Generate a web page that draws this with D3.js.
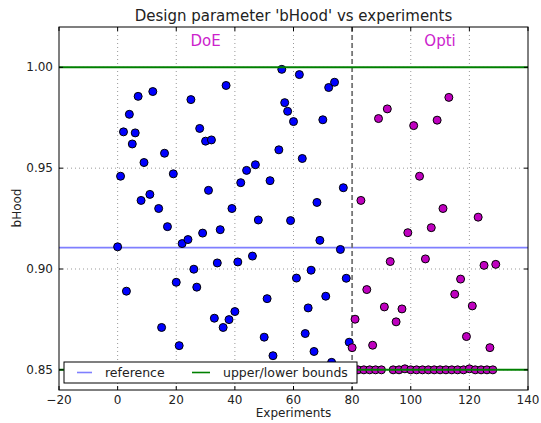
<!DOCTYPE html>
<html><head><meta charset="utf-8">
<script src="https://cdn.jsdelivr.net/npm/d3@7/dist/d3.min.js"></script>
<style>body{margin:0;background:#fff}svg{font-family:"DejaVu Sans",sans-serif;display:block}</style>
</head><body><svg id="c" width="541" height="423"></svg>
<script>
// DoE experiments (blue)
const doeX = [0,1,2,3,4,5,6,7,8,9,11,12,14,15,16,17,19,20,21,22,24,25,26,27,28,29,30,31,32,33,34,35,36,37,38,39,40,41,42,44,46,47,48,50,51,52,53,55,56,57,58,59,60,61,62,63,64,65,66,67,68,69,70,71,72,73,74,76,77,78,79];
const doeY = [0.911,0.946,0.968,0.889,0.9767,0.962,0.9675,0.9856,0.934,0.9528,0.937,0.988,0.930,0.871,0.9574,0.921,0.9472,0.8934,0.862,0.9126,0.9146,0.984,0.8999,0.891,0.9697,0.9178,0.9634,0.939,0.964,0.8756,0.903,0.9195,0.871,0.991,0.8749,0.930,0.8789,0.9035,0.9428,0.9489,0.9064,0.9517,0.9243,0.8662,0.8853,0.9438,0.857,0.9591,0.999,0.9825,0.9782,0.924,0.9731,0.8955,0.9964,0.9548,0.868,0.8807,0.8994,0.8591,0.933,0.9142,0.974,0.8865,0.990,0.8537,0.9926,0.9097,0.9403,0.8954,0.8637];
// Optimisation experiments (magenta)
const optX = [80,81,82,83,84,85,86,87,88,89,90,91,92,93,94,95,96,97,98,99,100,101,102,103,104,105,106,107,108,109,110,111,112,113,114,115,116,117,118,119,120,121,122,123,124,125,126,127,128,129];
const optY = [0.861,0.8751,0.85,0.934,0.85,0.8898,0.85,0.8622,0.85,0.9746,0.85,0.8812,0.9794,0.9037,0.85,0.8738,0.85,0.8802,0.8505,0.918,0.85,0.9711,0.85,0.946,0.85,0.905,0.85,0.9205,0.85,0.9738,0.85,0.930,0.85,0.9851,0.85,0.8875,0.85,0.895,0.85,0.8665,0.8505,0.8817,0.85,0.9257,0.85,0.9018,0.85,0.861,0.85,0.9023];
const xTicks = [-20,0,20,40,60,80,100,120,140];
const yTicks = [0.85,0.90,0.95,1.00];
const referenceValue = 0.9106;
const boundValues = [0.85,1.00];
const splitAt = 80;
const phaseLabels = ["DoE","Opti"];
const phaseLabelX = [30,110];

const svg = d3.select("#c");
const L=59,R=528,T=27,B=390;
const x = d3.scaleLinear().domain([-20,140]).range([L,R]);
const y = d3.scaleLinear().domain([0.84,1.02]).range([B,T]);

svg.append("rect").attr("width",541).attr("height",423).attr("fill","#fff");

// grid
const g = svg.append("g");
g.selectAll(".gx").data(xTicks.slice(1,-1)).enter().append("line")
 .attr("x1",d=>x(d)).attr("x2",d=>x(d)).attr("y1",T).attr("y2",B)
 .attr("stroke","#999").attr("stroke-width",1).attr("stroke-dasharray","1,3");
g.selectAll(".gy").data(yTicks).enter().append("line")
 .attr("x1",L).attr("x2",R).attr("y1",d=>y(d)).attr("y2",d=>y(d))
 .attr("stroke","#999").attr("stroke-width",1).attr("stroke-dasharray","1,3");

// reference line
svg.append("line").attr("x1",L).attr("x2",R).attr("y1",y(referenceValue)).attr("y2",y(referenceValue))
 .attr("stroke","#7f7fff").attr("stroke-width",1.6);

// split line
svg.append("line").attr("x1",x(splitAt)).attr("x2",x(splitAt)).attr("y1",T).attr("y2",B)
 .attr("stroke","#777").attr("stroke-width",1.8).attr("stroke-dasharray","5,3");

// points
svg.append("g").selectAll("circle").data(doeX.map((d,i)=>[d,doeY[i]])).enter().append("circle")
 .attr("cx",d=>x(d[0])).attr("cy",d=>y(d[1])).attr("r",4)
 .attr("fill","#0000ff").attr("stroke","#000").attr("stroke-width",1);
svg.append("g").selectAll("circle").data(optX.map((d,i)=>[d,optY[i]])).enter().append("circle")
 .attr("cx",d=>x(d[0])).attr("cy",d=>y(d[1])).attr("r",4)
 .attr("fill","#bf00bf").attr("stroke","#000").attr("stroke-width",1);

// bounds
svg.append("g").selectAll("line").data(boundValues).enter().append("line")
 .attr("x1",L).attr("x2",R).attr("y1",d=>y(d)).attr("y2",d=>y(d))
 .attr("stroke","#008000").attr("stroke-width",2);

// phase labels
svg.append("g").selectAll("text").data(phaseLabels).enter().append("text")
 .attr("x",(d,i)=>x(phaseLabelX[i])).attr("y",y(1.0132)+5).attr("text-anchor","middle")
 .attr("font-size",15).attr("fill","#cc22cc").text(d=>d);

// frame
svg.append("rect").attr("x",L).attr("y",T).attr("width",R-L).attr("height",B-T)
 .attr("fill","none").attr("stroke","#000").attr("stroke-width",1);

// ticks (inside, all sides)
const tk = svg.append("g").attr("stroke","#000").attr("stroke-width",1);
xTicks.forEach(t=>{tk.append("line").attr("x1",x(t)).attr("x2",x(t)).attr("y1",B).attr("y2",B-4);
  tk.append("line").attr("x1",x(t)).attr("x2",x(t)).attr("y1",T).attr("y2",T+4);});
yTicks.forEach(t=>{tk.append("line").attr("x1",L).attr("x2",L+4).attr("y1",y(t)).attr("y2",y(t));
  tk.append("line").attr("x1",R).attr("x2",R-4).attr("y1",y(t)).attr("y2",y(t));});

// tick labels
svg.append("g").selectAll("text").data(xTicks).enter().append("text")
 .attr("x",d=>x(d)).attr("y",B+14).attr("text-anchor","middle").attr("font-size",12).attr("fill","#222")
 .text(d=>d<0?"\u2212"+Math.abs(d):d);
svg.append("g").selectAll("text").data(yTicks).enter().append("text")
 .attr("x",L-6).attr("y",d=>y(d)+4).attr("text-anchor","end").attr("font-size",12).attr("fill","#222")
 .text(d=>d.toFixed(2));

// titles
svg.append("text").attr("x",(L+R)/2).attr("y",21).attr("text-anchor","middle").attr("font-size",15).attr("fill","#222")
 .text("Design parameter 'bHood' vs experiments");
svg.append("text").attr("x",(L+R)/2).attr("y",417).attr("text-anchor","middle").attr("font-size",12).attr("fill","#222").text("Experiments");
svg.append("text").attr("transform","translate(21,208) rotate(-90)").attr("text-anchor","middle").attr("font-size",12).attr("fill","#222").text("bHood");

// legend
const lg = svg.append("g");
lg.append("rect").attr("x",64).attr("y",362).attr("width",293).attr("height",21).attr("fill","#fff").attr("stroke","#000").attr("stroke-width",1);
lg.append("line").attr("x1",77).attr("x2",92).attr("y1",372.5).attr("y2",372.5).attr("stroke","#7f7fff").attr("stroke-width",1.6);
lg.append("text").attr("x",105).attr("y",377).attr("font-size",12.5).attr("fill","#222").text("reference");
lg.append("line").attr("x1",192).attr("x2",210).attr("y1",372.5).attr("y2",372.5).attr("stroke","#008000").attr("stroke-width",1.6);
lg.append("text").attr("x",223).attr("y",377).attr("font-size",12.5).attr("fill","#222").text("upper/lower bounds");
</script></body></html>
